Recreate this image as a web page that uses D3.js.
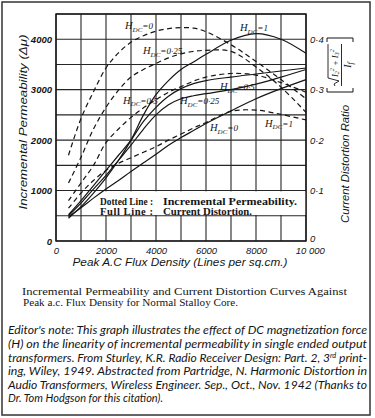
<!DOCTYPE html>
<html><head><meta charset="utf-8">
<script src="https://cdn.jsdelivr.net/npm/d3@7"></script>
<style>body{margin:0;background:#fff}svg{display:block}</style>
</head><body>
<svg id="c" width="375" height="418"></svg>
<script>
// ---- data ----
const flux = [500,1000,1500,2000,2500,3000,3500,4000,4500,5000,5500,6000,7000,8000,9000,10000];
// Incremental permeability (dotted lines, left axis)
const permH0   = [1700,2430,2960,3430,3730,3940,4070,4160,4210,4230,4220,4150,3890,3560,3200,2820];
const permH025 = [1150,1660,2220,2650,2990,3250,3400,3520,3630,3710,3760,3780,3760,3450,3050,2550];
const permH05  = [800,1150,1500,1950,2220,2450,2640,2800,2950,3060,3170,3250,3320,3290,3140,2950];
const permH1   = [650,950,1200,1400,1540,1650,1760,1870,2000,2120,2240,2350,2570,2595,2510,2400];
// Current distortion ratio (full lines, right axis)
const distH0   = [0.048,0.066,0.085,0.103,0.120,0.138,0.155,0.172,0.190,0.205,0.219,0.233,0.258,0.282,0.302,0.320];
const distH025 = [0.050,0.075,0.103,0.130,0.160,0.190,0.222,0.250,0.270,0.282,0.288,0.292,0.300,0.311,0.325,0.340];
const distH05  = [0.052,0.080,0.110,0.140,0.170,0.200,0.237,0.265,0.287,0.302,0.312,0.318,0.325,0.331,0.337,0.343];
const distH1   = [0.045,0.068,0.095,0.125,0.160,0.200,0.250,0.290,0.318,0.340,0.355,0.370,0.398,0.411,0.400,0.372];

const xTicks = [0,2000,4000,6000,8000,10000];
const xTickLabels = ["0","2000","4000","6000","8000","10 000"];
const leftTicks = [0,1000,2000,3000,4000];
const rightTicks = [0,0.1,0.2,0.3,0.4];
const rightTickLabels = ["0","0·1","0·2","0·3","0·4"];
const hLabels = ["0","0·25","0·5","1"];
// label anchor points in data units
const permLabelPos = [[2760,4200],[3480,3707],[2680,2716],[8360,2260]];
const distLabelPos = [[6160,0.218],[4960,0.271],[6560,0.299],[7360,0.416]];

const captionLines = ["Incremental Permeability and Current Distortion Curves Against",
                      "Peak a.c. Flux Density for Normal Stalloy Core."];
const noteLines = [
 "Editor's note: This graph illustrates the effect of DC magnetization force",
 "(H) on the linearity of incremental permeability in single ended output",
 "transformers. From Sturley, K.R. Radio Receiver Design: Part. 2, 3|rd| print-",
 "ing, Wiley, 1949. Abstracted from Partridge, N.  Harmonic Distortion in",
 "Audio Transformers, Wireless Engineer. Sep., Oct., Nov. 1942 (Thanks to",
 "Dr. Tom Hodgson for this citation)."];

// ---- layout ----
const svg = d3.select("#c");
const L = 56, R = 306, T = 14, B = 241;
const x = d3.scaleLinear().domain([0,10000]).range([L,R]);
const yL = d3.scaleLinear().domain([0,4500]).range([B,T]);
const yR = d3.scaleLinear().domain([0,0.45]).range([B,T]);
const ink = "#151515";

// outer frame
svg.append("rect").attr("x",2).attr("y",2).attr("width",368).attr("height",413)
  .attr("fill","none").attr("stroke","#333").attr("stroke-width",1.5);

// grid
const gridG = svg.append("g").attr("class","grid");
gridG.selectAll("line.gv").data(d3.range(0,10001,1000)).enter().append("line")
  .attr("class","gv")
  .attr("x1",d=>x(d)).attr("x2",d=>x(d)).attr("y1",T).attr("y2",B)
  .style("stroke","#262626").style("stroke-width","1.1px");
gridG.selectAll("line.gh").data(d3.range(0,4501,500)).enter().append("line")
  .attr("class","gh")
  .attr("x1",L).attr("x2",R).attr("y1",d=>yL(d)).attr("y2",d=>yL(d))
  .style("stroke","#262626").style("stroke-width","1.1px");
svg.append("rect").attr("x",L).attr("y",T).attr("width",R-L).attr("height",B-T)
  .style("fill","none").style("stroke",ink).style("stroke-width","1.4px");

// legend box (white, between 1000 and 500 grid lines)
svg.append("rect").attr("x",x(1550)).attr("y",yL(1000)+0.8).attr("width",R-x(1550)-0.8)
  .attr("height",yL(500)-yL(1000)-1.6).style("fill","#fff");
const lg = svg.append("g").attr("font-family","'Liberation Serif','DejaVu Serif',serif")
  .attr("font-weight","bold").attr("font-size",10.5).attr("fill",ink);
lg.append("text").attr("x",100).attr("y",204.5).attr("textLength",53).attr("lengthAdjust","spacingAndGlyphs").text("Dotted Line :");
lg.append("text").attr("x",100).attr("y",214.5).attr("textLength",53).attr("lengthAdjust","spacing").text("Full Line :");
lg.append("text").attr("x",163).attr("y",204.5).attr("textLength",134).attr("lengthAdjust","spacingAndGlyphs").text("Incremental Permeability.");
lg.append("text").attr("x",163).attr("y",214.5).attr("textLength",89).attr("lengthAdjust","spacingAndGlyphs").text("Current Distortion.");

// curves
const lineP = d3.line().x((d,i)=>x(flux[i])).y(d=>yL(d)).curve(d3.curveCatmullRom.alpha(0.5));
const lineD = d3.line().x((d,i)=>x(flux[i])).y(d=>yR(d)).curve(d3.curveCatmullRom.alpha(0.5));
const perm = [permH0,permH025,permH05,permH1];
const dist = [distH0,distH025,distH05,distH1];
svg.append("g").selectAll("path").data(perm).join("path")
  .attr("d",lineP).attr("fill","none").attr("stroke",ink).attr("stroke-width",1.2)
  .attr("stroke-dasharray","5,3.5");
svg.append("g").selectAll("path").data(dist).join("path")
  .attr("d",lineD).attr("fill","none").attr("stroke",ink).attr("stroke-width",1.2);

// curve labels
function hLabel(px,py,val){
  const t = svg.append("text").attr("x",px).attr("y",py)
    .attr("font-family","'Liberation Serif','DejaVu Serif',serif").attr("font-style","italic")
    .attr("font-size",10.5).attr("fill",ink);
  t.append("tspan").text("H");
  t.append("tspan").attr("font-size",7).attr("dy",2.5).text("DC");
  t.append("tspan").attr("dy",-2.5).attr("font-size",9).text("="+val);
}
permLabelPos.forEach((p,i)=>hLabel(x(p[0]),yL(p[1]),hLabels[i]));
distLabelPos.forEach((p,i)=>hLabel(x(p[0]),yR(p[1]),hLabels[i]));

// axes
const tickFont = "'Liberation Sans','DejaVu Sans',sans-serif";
const gl = svg.append("g").attr("transform",`translate(${L},0)`)
  .call(d3.axisLeft(yL).tickValues(leftTicks).tickSize(0).tickPadding(4).tickFormat(d3.format("d")));
const gr = svg.append("g").attr("transform",`translate(${R},0)`)
  .call(d3.axisRight(yR).tickValues(rightTicks).tickSize(0).tickPadding(4).tickFormat((d,i)=>rightTickLabels[i]));
const gb = svg.append("g").attr("transform",`translate(0,${B})`)
  .call(d3.axisBottom(x).tickValues(xTicks).tickSize(0).tickPadding(6).tickFormat((d,i)=>xTickLabels[i]));
[gl,gr,gb].forEach(g=>{
  g.select(".domain").remove();
  g.selectAll("text").attr("font-family",tickFont).attr("font-style","italic")
    .attr("font-size",9.5).attr("fill",ink);
});
gl.selectAll("text").attr("font-weight","bold");
gr.selectAll("text").filter(d=>d===0).attr("dy","0.1em");
gb.selectAll("text").filter(d=>d===10000).attr("dx","0.4em");

// axis titles
svg.append("text").attr("transform","translate(27,122) rotate(-90)").attr("text-anchor","middle")
  .attr("font-family",tickFont).attr("font-style","italic").attr("font-size",11.5).attr("fill",ink)
  .attr("textLength",175).attr("lengthAdjust","spacingAndGlyphs")
  .text("Incremental Permeability (Δμ)");
svg.append("text").attr("transform","translate(349,164) rotate(-90)").attr("text-anchor","middle")
  .attr("font-family",tickFont).attr("font-style","italic").attr("font-size",11.5).attr("fill",ink)
  .attr("textLength",118).attr("lengthAdjust","spacingAndGlyphs")
  .text("Current Distortion Ratio");
svg.append("text").attr("x",180).attr("y",266).attr("text-anchor","middle")
  .attr("font-family",tickFont).attr("font-style","italic").attr("font-size",11.5).attr("fill",ink)
  .attr("textLength",215).attr("lengthAdjust","spacingAndGlyphs")
  .text("Peak A.C Flux Density (Lines per sq.cm.)");

// formula [ sqrt(I2^2+I3^2) / If ]
const fg = svg.append("g").attr("transform","translate(340,65) rotate(-90)");
fg.append("path").attr("d","M-23,-13 L-27,-13 L-27,13 L-23,13 M23,-13 L27,-13 L27,13 L23,13")
  .attr("fill","none").attr("stroke",ink).attr("stroke-width",1);
fg.append("path").attr("d","M-21,-5 L-19,-6 L-16,-1 L-13,-12 L21,-12 M-21,1.5 L21,1.5")
  .attr("fill","none").attr("stroke",ink).attr("stroke-width",0.9);
const num = fg.append("text").attr("x",-12).attr("y",-2.5)
  .attr("font-family","'Liberation Serif',serif").attr("font-style","italic").attr("font-size",8.5).attr("fill",ink);
num.append("tspan").text("I");
num.append("tspan").attr("font-size",6).attr("dy",1.5).text("2");
num.append("tspan").attr("font-size",6).attr("dy",-5).text("2");
num.append("tspan").attr("dy",3.5).text(" + I");
num.append("tspan").attr("font-size",6).attr("dy",1.5).text("3");
num.append("tspan").attr("font-size",6).attr("dy",-5).text("2");
const den = fg.append("text").attr("x",0).attr("y",11).attr("text-anchor","middle")
  .attr("font-family","'Liberation Serif',serif").attr("font-style","italic").attr("font-size",10).attr("fill",ink);
den.append("tspan").text("I");
den.append("tspan").attr("font-size",8).attr("dy",1.5).text("f");

// caption
const cap = svg.append("g").attr("font-family","'Liberation Serif','DejaVu Serif',serif")
  .attr("font-size",10).attr("fill",ink);
cap.append("text").attr("x",22).attr("y",295).attr("textLength",325).attr("lengthAdjust","spacingAndGlyphs").text(captionLines[0]);
cap.append("text").attr("x",23).attr("y",306.2).attr("textLength",215).attr("lengthAdjust","spacingAndGlyphs").text(captionLines[1]);

// editor's note
const note = svg.append("g").attr("font-family","Lato,'Open Sans',sans-serif")
  .attr("font-style","italic").attr("font-size",11.5).attr("fill",ink);
const noteY = [334,348,361.5,375,388.5,402];
noteLines.forEach((ln,i)=>{
  const t = note.append("text").attr("x",8).attr("y",noteY[i]);
  if(i<noteLines.length-1) t.attr("textLength",359).attr("lengthAdjust","spacingAndGlyphs");
  else t.attr("textLength",155).attr("lengthAdjust","spacingAndGlyphs");
  const parts = ln.split("|");
  parts.forEach((p,j)=>{
    const s = t.append("tspan").text(p);
    if(j===1) s.attr("font-size",7).attr("dy",-4);
    if(j===2) s.attr("dy",4);
  });
});
</script>
</body></html>
